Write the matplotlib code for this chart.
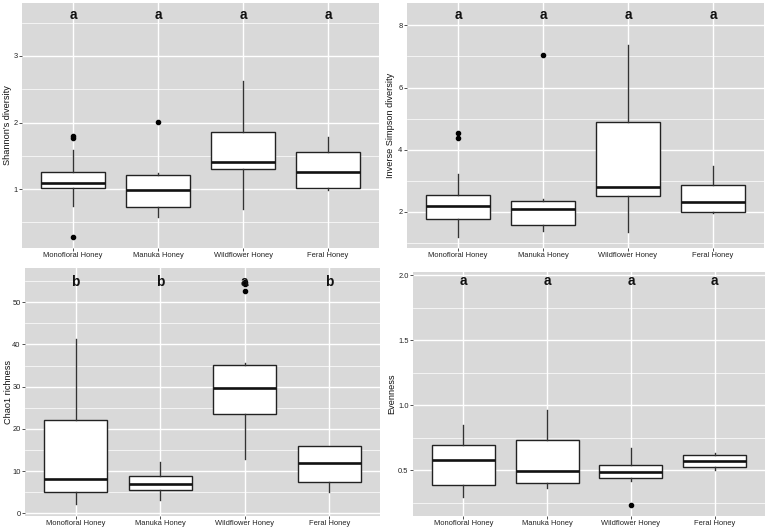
import matplotlib
matplotlib.use('Agg')
import matplotlib.pyplot as plt
from matplotlib.ticker import FixedLocator

plt.rcParams['font.family'] = ['Liberation Sans', 'DejaVu Sans']

W, H = 767, 530

GROUPS = ['Monofloral Honey', 'Manuka Honey', 'Wildflower Honey', 'Feral Honey']

# Shannon's diversity
shannon_q1 = [1.015, 0.73, 1.305, 1.015]
shannon_med = [1.09, 0.98, 1.40, 1.26]
shannon_q3 = [1.25, 1.205, 1.85, 1.555]
shannon_lo = [0.74, 0.58, 0.705, 0.99]
shannon_hi = [1.59, 1.24, 2.63, 1.775]
shannon_out = [[1.77, 1.79, 0.275], [2.01], [], []]
shannon_letters = ['a', 'a', 'a', 'a']

# Inverse Simpson diversity
invsimp_q1 = [1.765, 1.583, 2.513, 1.99]
invsimp_med = [2.19, 2.085, 2.81, 2.32]
invsimp_q3 = [2.556, 2.34, 4.877, 2.856]
invsimp_lo = [1.176, 1.37, 1.337, 1.957]
invsimp_hi = [3.2, 2.4, 7.36, 3.476]
invsimp_out = [[4.37, 4.545], [7.05], [], []]
invsimp_letters = ['a', 'a', 'a', 'a']

# Chao1 richness
chao_q1 = [5.13, 5.44, 23.57, 7.33]
chao_med = [8.13, 7.09, 29.64, 12.06]
chao_q3 = [22.08, 8.75, 35.08, 16.08]
chao_lo = [2.13, 3.17, 13.0, 5.13]
chao_hi = [41.2, 12.15, 35.7, 16.08]
chao_out = [[], [], [52.6, 54.2, 54.8], []]
chao_letters = ['b', 'b', 'a', 'b']

# Evenness
even_q1 = [0.385, 0.402, 0.441, 0.523]
even_med = [0.577, 0.497, 0.487, 0.574]
even_q3 = [0.697, 0.735, 0.538, 0.618]
even_lo = [0.297, 0.362, 0.415, 0.502]
even_hi = [0.848, 0.962, 0.672, 0.635]
even_out = [[], [], [0.233], []]
even_letters = ['a', 'a', 'a', 'a']

PANEL_BG = '#d9d9d9'
TEXT_COL = '#333333'


def px_axes(fig, left, top, right, bottom):
    return fig.add_axes([left / W, 1 - bottom / H, (right - left) / W, (bottom - top) / H])


def draw_panel(ax, q1, med, q3, lo, hi, out, letters, letter_y, ylim,
               major, minor, ylabel, ylabel_x, fmt):
    stats = []
    for i in range(len(GROUPS)):
        stats.append({'q1': q1[i], 'med': med[i], 'q3': q3[i],
                      'whislo': lo[i], 'whishi': hi[i], 'fliers': out[i]})
    ax.set_facecolor(PANEL_BG)
    ax.set_axisbelow(True)
    ax.bxp(stats, positions=range(1, len(GROUPS) + 1), widths=0.75,
           patch_artist=True, showcaps=False,
           boxprops=dict(facecolor='white', edgecolor='#222222', linewidth=1.0),
           medianprops=dict(color='#111111', linewidth=1.9),
           whiskerprops=dict(color='#333333', linewidth=1.0),
           flierprops=dict(marker='o', markerfacecolor='black',
                           markeredgecolor='black', markersize=3.0))
    for i, lab in enumerate(letters):
        ax.text(i + 1, letter_y, lab, ha='center', va='center',
                fontsize=9.8, fontweight='bold', color='#111111')
    ax.set_xlim(0.4, len(GROUPS) + 0.6)
    ax.set_ylim(*ylim)
    ax.set_xticks(range(1, len(GROUPS) + 1))
    ax.set_xticklabels(GROUPS)
    ax.yaxis.set_major_locator(FixedLocator(major))
    ax.yaxis.set_minor_locator(FixedLocator(minor))
    ax.set_yticklabels([fmt.format(v) for v in major])
    ax.grid(which='major', color='white', linewidth=1.0)
    ax.grid(which='minor', axis='y', color='white', linewidth=0.5)
    ax.tick_params(which='major', length=2.0, width=0.6, color=TEXT_COL,
                   labelsize=5.4, labelcolor='#222222', pad=1.2)
    ax.tick_params(which='minor', length=0)
    for s in ax.spines.values():
        s.set_visible(False)
    ax.set_ylabel(ylabel, fontsize=6.6, color='#111111')
    ax.yaxis.set_label_coords(ylabel_x, 0.5)


fig = plt.figure(figsize=(W / 100, H / 100), dpi=100)

ax1 = px_axes(fig, 22, 3, 379, 248)
draw_panel(ax1, shannon_q1, shannon_med, shannon_q3, shannon_lo, shannon_hi,
           shannon_out, shannon_letters, 3.615, (0.115, 3.795),
           [1, 2, 3], [0.5, 1.5, 2.5, 3.5], "Shannon's diversity", -0.028, '{:g}')

ax2 = px_axes(fig, 407, 3, 764, 248)
draw_panel(ax2, invsimp_q1, invsimp_med, invsimp_q3, invsimp_lo, invsimp_hi,
           invsimp_out, invsimp_letters, 8.32, (0.834, 8.72),
           [2, 4, 6, 8], [1, 3, 5, 7], 'Inverse Simpson diversity', -0.034, '{:g}')

ax3 = px_axes(fig, 25, 268, 380, 516)
draw_panel(ax3, chao_q1, chao_med, chao_q3, chao_lo, chao_hi,
           chao_out, chao_letters, 54.8, (-0.6, 58.1),
           [0, 10, 20, 30, 40, 50], [5, 15, 25, 35, 45, 55], 'Chao1 richness',
           -0.035, '{:g}')

ax4 = px_axes(fig, 413, 272, 765, 516)
draw_panel(ax4, even_q1, even_med, even_q3, even_lo, even_hi,
           even_out, even_letters, 1.956, (0.149, 2.025),
           [0.5, 1.0, 1.5, 2.0], [0.25, 0.75, 1.25, 1.75], 'Evenness',
           -0.049, '{:.1f}')

fig.savefig('out.png', dpi=100)
